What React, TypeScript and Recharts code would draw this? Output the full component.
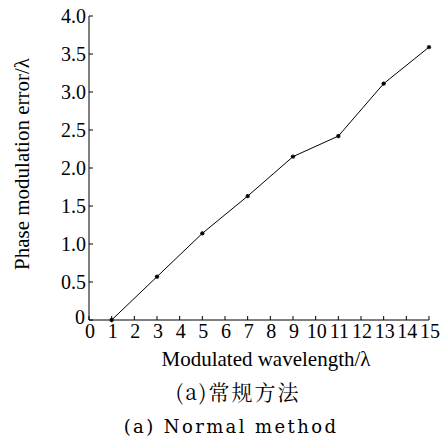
import React from "react";
import { LineChart, Line, XAxis, YAxis } from "recharts";

const wavelengths = [1, 3, 5, 7, 9, 11, 13, 15];
const errors = [0, 0.57, 1.14, 1.63, 2.15, 2.42, 3.11, 3.59];
const xTicks = [0, 1, 2, 3, 4, 5, 6, 7, 8, 9, 10, 11, 12, 13, 14, 15];
const yTicks = [0, 0.5, 1, 1.5, 2, 2.5, 3, 3.5, 4];

const data = wavelengths.map((w, i) => ({ w, e: errors[i] }));

const FONT = "'Liberation Serif', 'DejaVu Serif', serif";
const TICK = 4;

const fmtY = (v: number) => (v === 0 ? "0" : v.toFixed(1));

const BottomTick = (props: any) => {
  const { x, y, payload } = props;
  return (
    <g>
      <line x1={x} y1={y} x2={x} y2={y - TICK} stroke="#000" />
      <text x={x + 1} y={y + 18} textAnchor="middle" fontSize={20} fontFamily={FONT} fill="#000">
        {payload.value}
      </text>
    </g>
  );
};

const TopTick = (props: any) => {
  const { x, y } = props;
  return <line x1={x} y1={y} x2={x} y2={y + TICK} stroke="#000" />;
};

const LeftTick = (props: any) => {
  const { x, y, payload } = props;
  const zero = payload.value === 0;
  return (
    <g>
      <line x1={x} y1={y} x2={x + TICK} y2={y} stroke="#000" />
      <text
        x={zero ? x - 4 : x - 3}
        y={zero ? y + 4 : y + 7}
        textAnchor="end"
        fontSize={20}
        fontFamily={FONT}
        fill="#000"
      >
        {fmtY(payload.value)}
      </text>
    </g>
  );
};

const RightTick = (props: any) => {
  const { x, y } = props;
  return <line x1={x} y1={y} x2={x - TICK} y2={y} stroke="#000" />;
};

const Star = (props: any) => {
  const { cx, cy } = props;
  const r = 2.2;
  return (
    <g stroke="#000" strokeWidth={1.2}>
      <line x1={cx - r} y1={cy} x2={cx + r} y2={cy} />
      <line x1={cx} y1={cy - r} x2={cx} y2={cy + r} />
      <line x1={cx - r * 0.7} y1={cy - r * 0.7} x2={cx + r * 0.7} y2={cy + r * 0.7} />
      <line x1={cx - r * 0.7} y1={cy + r * 0.7} x2={cx + r * 0.7} y2={cy - r * 0.7} />
    </g>
  );
};

export default function App() {
  return (
    <div style={{ position: "absolute", left: 0, top: 0, width: 441, height: 438, background: "#fff", fontFamily: FONT }}>
      <LineChart width={441} height={438} data={data} margin={{ top: 16, right: 12, left: 0, bottom: 0 }}>
        <XAxis
          dataKey="w"
          type="number"
          domain={[0, 15]}
          ticks={xTicks}
          interval={0}
          height={118}
          tickSize={0}
          tickMargin={0}
          tick={<BottomTick />}
          axisLine={{ stroke: "#000" }}
        />
        <XAxis
          xAxisId="top"
          orientation="top"
          type="number"
          domain={[0, 15]}
          ticks={xTicks}
          interval={0}
          height={0}
          tickSize={0}
          tickMargin={0}
          tick={<TopTick />}
          axisLine={{ stroke: "#000" }}
        />
        <YAxis
          type="number"
          domain={[0, 4]}
          ticks={yTicks}
          interval={0}
          width={89}
          tickSize={0}
          tickMargin={0}
          tick={<LeftTick />}
          axisLine={{ stroke: "#000" }}
        />
        <YAxis
          yAxisId="right"
          orientation="right"
          type="number"
          domain={[0, 4]}
          ticks={yTicks}
          interval={0}
          width={0}
          tickSize={0}
          tickMargin={0}
          tick={<RightTick />}
          axisLine={{ stroke: "#000" }}
        />
        <Line
          dataKey="e"
          stroke="#000"
          strokeWidth={1}
          dot={<Star />}
          activeDot={false}
          isAnimationActive={false}
        />
      </LineChart>
      <div
        style={{
          position: "absolute",
          left: 22,
          top: 164,
          transform: "translate(-50%, -50%) rotate(-90deg)",
          fontSize: 21,
          whiteSpace: "nowrap",
        }}
      >
        Phase modulation error/λ
      </div>
      <div style={{ position: "absolute", left: 0, width: 532, top: 347, textAlign: "center", fontSize: 21, whiteSpace: "nowrap" }}>
        Modulated wavelength/λ
      </div>
      <div style={{ position: "absolute", left: 0, width: 476, top: 376, textAlign: "center", fontSize: 21, whiteSpace: "nowrap", letterSpacing: 2, fontFamily: "'Noto Serif CJK SC', 'Noto Sans CJK SC', serif" }}>
        (a)常规方法
      </div>
      <div style={{ position: "absolute", left: 0, width: 462, top: 416, textAlign: "center", fontSize: 18, whiteSpace: "nowrap", letterSpacing: 2.4, fontFamily: "'DejaVu Serif', serif" }}>
        (a) Normal method
      </div>
    </div>
  );
}
